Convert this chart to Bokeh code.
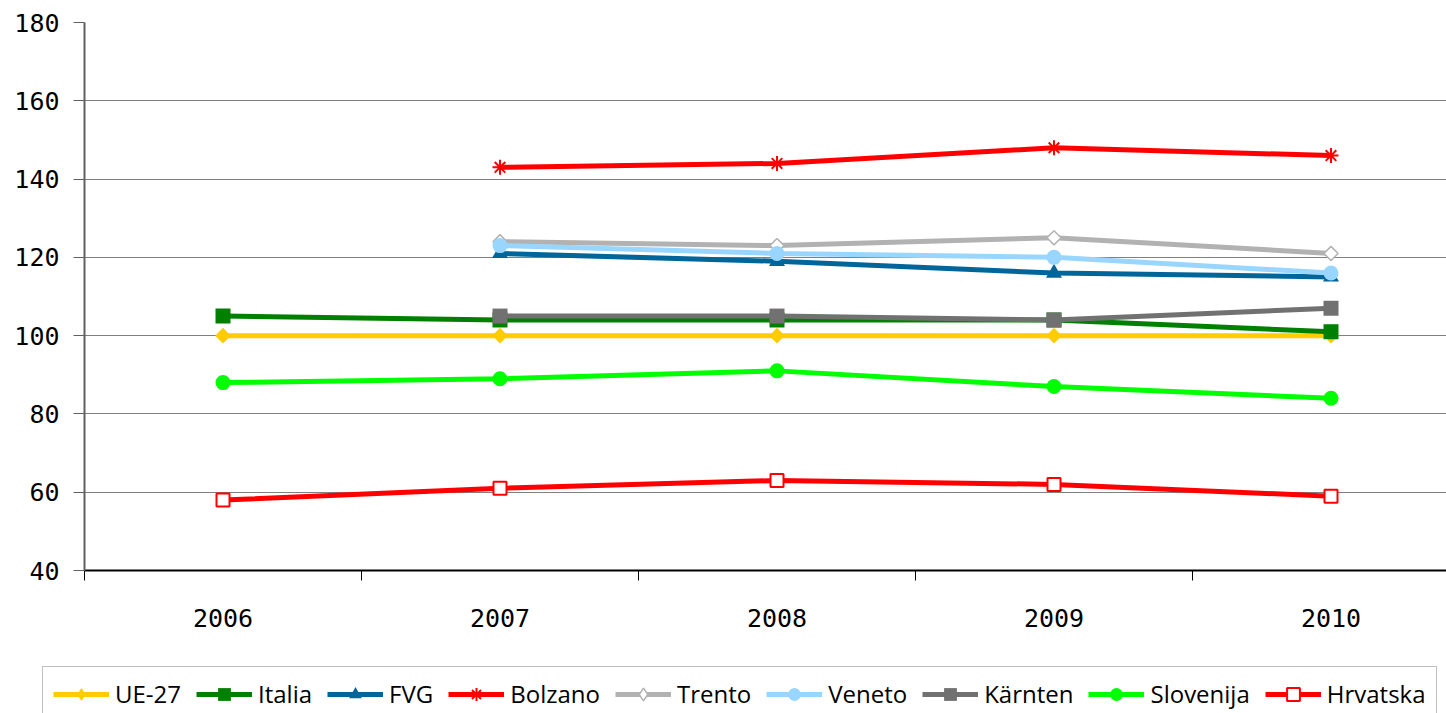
import math
from bokeh.plotting import figure
from bokeh.models import Range1d, FixedTicker, Legend, LegendItem, ColumnDataSource
from bokeh.embed import file_html
from bokeh.resources import INLINE

years = ["2006", "2007", "2008", "2009", "2010"]
series_names = ["UE-27", "Italia", "FVG", "Bolzano", "Trento", "Veneto", "Kärnten", "Slovenija", "Hrvatska"]

ue27 = [100, 100, 100, 100, 100]
italia = [105, 104, 104, 104, 101]
fvg = [None, 121, 119, 116, 115]
bolzano = [None, 143, 144, 148, 146]
trento = [None, 124, 123, 125, 121]
veneto = [None, 123, 121, 120, 116]
karnten = [None, 105, 105, 104, 107]
slovenija = [88, 89, 91, 87, 84]
hrvatska = [58, 61, 63, 62, 59]

y_ticks = [40, 60, 80, 100, 120, 140, 160, 180]

values = [ue27, italia, fvg, bolzano, trento, veneto, karnten, slovenija, hrvatska]

# plot marker style + legend marker style
styles = [
    dict(color="#FFCC00", marker="square", size=11, angle=math.pi / 4, fill="#FFCC00", lw=0,
         lmarker="diamond", lsize=15),
    dict(color="#008000", marker="square", size=15, angle=0, fill="#008000", lw=0,
         lmarker="square", lsize=12),
    dict(color="#006699", marker="triangle", size=16, angle=0, fill="#006699", lw=0,
         lmarker="triangle", lsize=13),
    dict(color="#FF0000", marker="asterisk", size=15, angle=0, fill="#FF0000", lw=2,
         lmarker="asterisk", lsize=13),
    dict(color="#B2B2B2", marker="square", size=10, angle=math.pi / 4, fill="white", lw=1.5,
         lmarker="diamond", lsize=15),
    dict(color="#99D6FF", marker="circle", size=15, angle=0, fill="#99D6FF", lw=0,
         lmarker="circle", lsize=13),
    dict(color="#717171", marker="square", size=15, angle=0, fill="#717171", lw=0,
         lmarker="square", lsize=12),
    dict(color="#00FF00", marker="circle", size=15, angle=0, fill="#00FF00", lw=0,
         lmarker="circle", lsize=13),
    dict(color="#FF0000", marker="square", size=13, angle=0, fill="white", lw=2,
         lmarker="square", lsize=12),
]

W = 1446
H_MAIN = 650
H_LEG = 63
LW = 5

p = figure(width=W, height=H_MAIN, output_backend="svg", toolbar_location=None,
           x_range=Range1d(-0.5, -0.5 + (W - 84) / 277.0), y_range=Range1d(40, 180),
           min_border_left=84, min_border_right=0, min_border_top=22, min_border_bottom=H_MAIN - 570)
p.outline_line_color = None
p.background_fill_color = "white"
p.border_fill_color = "white"

xa = p.xaxis[0]
xa.ticker = FixedTicker(ticks=list(range(len(years))),
                        minor_ticks=[i - 0.5 for i in range(len(years) + 1)])
xa.major_label_overrides = {i: y for i, y in enumerate(years)}
xa.major_tick_line_color = None
xa.major_tick_out = 10
xa.major_tick_in = 0
xa.minor_tick_out = 10
xa.minor_tick_in = 0
xa.minor_tick_line_color = "black"
xa.minor_tick_line_width = 1
xa.axis_line_color = "black"
xa.axis_line_width = 2
xa.major_label_text_font = "DejaVu Sans Mono"
xa.major_label_text_font_size = "25px"
xa.major_label_text_color = "black"
xa.major_label_standoff = 28

ya = p.yaxis[0]
ya.ticker = FixedTicker(ticks=y_ticks)
ya.major_tick_out = 11
ya.major_tick_in = 0
ya.minor_tick_line_color = None
ya.major_tick_line_color = "#606060"
ya.axis_line_color = "#606060"
ya.axis_line_width = 2
ya.major_label_text_font = "DejaVu Sans Mono"
ya.major_label_text_font_size = "25px"
ya.major_label_text_color = "black"
ya.major_label_standoff = 14

p.xgrid.grid_line_color = None
p.ygrid.ticker = FixedTicker(ticks=y_ticks)
p.ygrid.grid_line_color = "#808080"
p.ygrid.grid_line_width = 1

sources = []
for name, vals, st in zip(series_names, values, styles):
    xs = [i for i, v in enumerate(vals) if v is not None]
    ys = [v for v in vals if v is not None]
    src = ColumnDataSource(dict(x=xs, y=ys))
    sources.append(src)
    p.line("x", "y", source=src, line_color=st["color"], line_width=LW)
    p.scatter("x", "y", source=src, marker=st["marker"], size=st["size"], angle=st["angle"],
              fill_color=st["fill"], line_color=st["color"],
              line_width=st["lw"] if st["lw"] else 1,
              line_alpha=1.0 if st["lw"] else 0.0)

# legend strip: a separate figure below the chart; its ranges keep the series out of view,
# so only the legend shows
lf = figure(width=W, height=H_LEG, output_backend="svg", toolbar_location=None,
            x_range=Range1d(-20, -19), y_range=Range1d(-20, -19),
            x_axis_type=None, y_axis_type=None,
            min_border_left=0, min_border_right=0, min_border_top=0, min_border_bottom=0)
lf.outline_line_color = None
lf.grid.grid_line_color = None
lf.background_fill_color = "white"
lf.border_fill_color = "white"

items = []
for name, st, src in zip(series_names, styles, sources):
    lr = lf.line("x", "y", source=src, line_color=st["color"], line_width=LW)
    sr = lf.scatter("x", "y", source=src, marker=st["lmarker"], size=st["lsize"],
                    fill_color=st["fill"], line_color=st["color"],
                    line_width=st["lw"] if st["lw"] else 1,
                    line_alpha=1.0 if st["lw"] else 0.0)
    items.append(LegendItem(label=name, renderers=[lr, sr], index=0))

legend = Legend(items=items, orientation="horizontal", location=(42, -8),
                glyph_width=56, glyph_height=32, label_height=32, label_standoff=6,
                spacing=15, padding=10, margin=0,
                label_text_font="Open Sans", label_text_font_size="24px",
                label_text_color="black", label_text_baseline="middle",
                border_line_color="#808080", border_line_width=1.5,
                background_fill_color="white", background_fill_alpha=1.0)
lf.add_layout(legend, "center")

open("out.html", "w").write(file_html([p, lf], INLINE))
